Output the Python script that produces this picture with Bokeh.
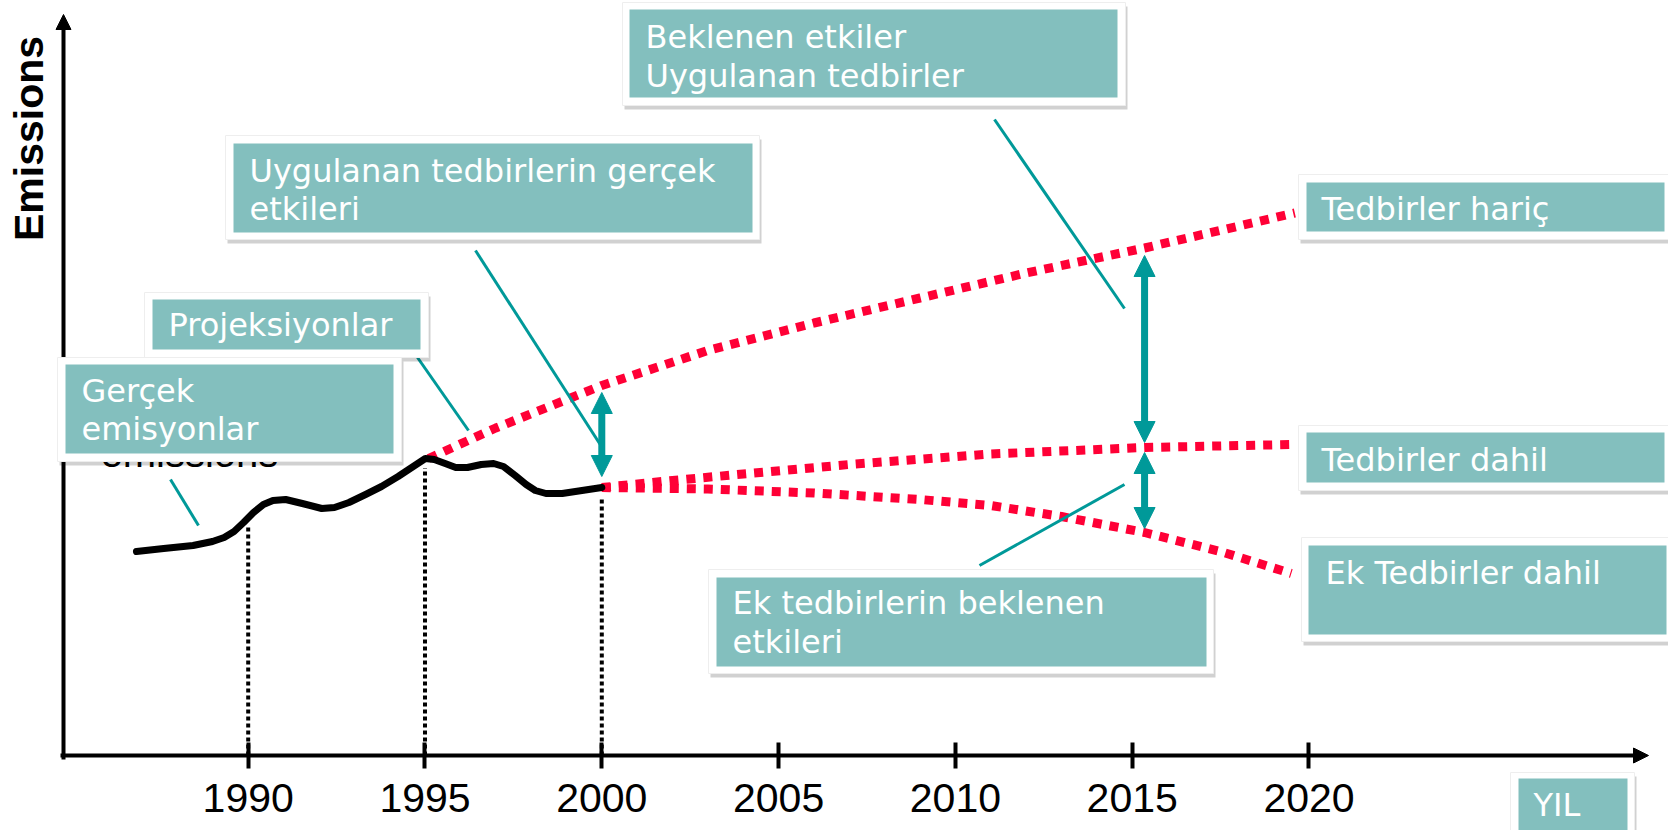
import math
from bokeh.plotting import figure
from bokeh.models import Range1d, LinearAxis, FixedTicker, Arrow, NormalHead
from bokeh.core.properties import value
from bokeh.embed import file_html
from bokeh.resources import INLINE

# ---------------- data ----------------
tick_years = [1990, 1995, 2000, 2005, 2010, 2015, 2020]

# actual (historic) emissions
actual_years = [1986.84, 1987.61, 1988.44, 1988.99, 1989.32, 1989.60, 1989.87, 1990.15,
                1990.43, 1990.70, 1991.06, 1991.53, 1992.08, 1992.44, 1992.85, 1993.32,
                1993.77, 1994.24, 1994.71, 1995.01, 1995.26, 1995.57, 1995.87, 1996.20,
                1996.59, 1996.94, 1997.22, 1997.55, 1997.86, 1998.12, 1998.42, 1998.88,
                1999.44, 2000.0]
actual_emis = [40.8, 41.4, 42.0, 42.8, 43.6, 44.8, 46.6, 48.6,
               50.2, 51.0, 51.2, 50.4, 49.4, 49.6, 50.6, 52.2,
               53.8, 55.8, 58.0, 59.4, 59.2, 58.4, 57.6, 57.6,
               58.2, 58.4, 57.8, 56.0, 54.2, 53.0, 52.4, 52.4,
               53.0, 53.6]

# projection without measures (Tedbirler hariç)
wom_years = [1995.1, 1997, 2000, 2003, 2006, 2009, 2012, 2015.35, 2019.6]
wom_emis = [59.4, 65.5, 74.0, 81.0, 86.5, 91.5, 96.5, 101.5, 108.5]

# projection with measures (Tedbirler dahil)
wm_years = [2000, 2002, 2004, 2007, 2011, 2015.35, 2019.5]
wm_emis = [53.6, 55.0, 56.3, 58.2, 60.3, 61.6, 62.2]

# projection with additional measures (Ek Tedbirler dahil)
wam_years = [2000, 2003, 2006, 2009, 2011, 2013, 2015.35, 2017.5, 2019.5]
wam_emis = [53.6, 53.3, 52.5, 51.2, 50.0, 47.8, 44.6, 40.8, 36.4]

# effect arrows
arrow_years = [2000, 2015.35, 2015.35]
arrow_low = [55.8, 62.6, 45.4]
arrow_high = [72.6, 100.0, 60.6]

# dotted reference years
ref_years = [1990, 1995, 2000]
ref_tops = [46.0, 57.5, 51.5]

y_axis_title = "Emissions"
x_axis_title = "YIL"
hidden_text = "emissions"
box_texts = [
    ["Beklenen etkiler", "Uygulanan tedbirler"],
    ["Uygulanan tedbirlerin gerçek", "etkileri"],
    ["Projeksiyonlar"],
    ["Gerçek", "emisyonlar"],
    ["Tedbirler hariç"],
    ["Tedbirler dahil"],
    ["Ek Tedbirler dahil"],
    ["Ek tedbirlerin beklenen", "etkileri"],
    [x_axis_title],
]

# ---------------- layout helpers (page pixels -> data) ----------------
W, H = 1668, 830
XR0, XR1 = 1982.995, 2030.167
YR0, YR1 = -15.0, 151.0
XS = W / (XR1 - XR0)
YS = H / (YR1 - YR0)


def X(px):
    return XR0 + px / XS


def Y(py):
    return YR1 - py / YS


def TY(baseline, fs):
    # anchor so that the rendered baseline lands on `baseline`
    return Y(baseline - 0.34 * fs)


TEAL_FILL = "#83BFBE"
TEAL = "#009999"
RED = "#FF0036"

# box layout: outer (l,t,r,b), inner (l,t,r,b), text x, baselines, font size
box_layout = [
    ((622, 2, 1125, 105), (629, 9, 1117, 97), 645, [47, 86], 32),
    ((225, 135, 759, 239), (233, 143, 752, 232), 249, [181, 219], 32),
    ((144, 292, 428, 357), (152, 299, 420, 349), 168, [335], 32),
    ((57, 357, 401, 461), (65, 364, 393, 453), 81, [401, 439], 32),
    ((1298, 174, 1675, 239), (1306, 182, 1664, 231), 1321, [219], 32),
    ((1298, 425, 1675, 490), (1306, 432, 1664, 482), 1321, [470], 32),
    ((1301, 537, 1675, 641), (1308, 545, 1666, 634), 1325, [583], 32),
    ((708, 569, 1213, 673), (716, 577, 1206, 666), 732, [613, 652], 32),
    ((1510, 772, 1634, 840), (1518, 778, 1627, 832), 1533, [815], 32),
]

leaders = [(170, 479, 198, 525), (417, 357, 468, 430), (475, 250, 601, 446),
           (994, 119, 1124, 308), (979, 565, 1124, 484)]

p = figure(width=W, height=H, x_range=Range1d(XR0, XR1), y_range=Range1d(YR0, YR1),
           output_backend="svg", toolbar_location=None, x_axis_type=None, y_axis_type=None,
           min_border=0)
p.outline_line_color = None
p.background_fill_color = "white"
p.border_fill_color = "white"

xa = LinearAxis(fixed_location=0, ticker=FixedTicker(ticks=tick_years))
xa.axis_line_color = None
xa.major_tick_line_color = "black"
xa.major_tick_line_width = 4
xa.major_tick_in = 13
xa.major_tick_out = 13
xa.minor_tick_line_color = None
xa.major_label_text_font = "Liberation Sans"
xa.major_label_text_font_size = "41px"
xa.major_label_text_color = "black"
xa.major_label_standoff = 15
p.add_layout(xa, "below")

# axis lines with arrow heads (drawn under boxes)
p.add_layout(Arrow(end=NormalHead(size=15, fill_color="black", line_color="black"),
                   x_start=X(60), y_start=Y(755), x_end=X(1648), y_end=Y(755),
                   line_width=4, line_color="black", level="underlay"))
p.add_layout(Arrow(end=NormalHead(size=15, fill_color="black", line_color="black"),
                   x_start=X(63), y_start=Y(759), x_end=X(63), y_end=Y(14),
                   line_width=4, line_color="black", level="underlay"))

# dotted reference lines
p.segment(x0=ref_years, y0=[0] * len(ref_years), x1=ref_years, y1=ref_tops,
          line_color="black", line_width=4, line_dash="4 3")

# projections
for xs, ys in [(wom_years, wom_emis), (wm_years, wm_emis), (wam_years, wam_emis)]:
    p.line(xs, ys, line_color=RED, line_width=9, line_dash="9 8")

# actual emissions
p.line(actual_years, actual_emis, line_color="black", line_width=7,
       line_join="round", line_cap="round")

# leaders
p.segment(x0=[X(a) for a, b, c, d in leaders], y0=[Y(b) for a, b, c, d in leaders],
          x1=[X(c) for a, b, c, d in leaders], y1=[Y(d) for a, b, c, d in leaders],
          line_color=TEAL, line_width=3)

# effect arrows
for xv, lo, hi in zip(arrow_years, arrow_low, arrow_high):
    p.add_layout(Arrow(start=NormalHead(size=21, fill_color=TEAL, line_color=TEAL),
                       end=NormalHead(size=21, fill_color=TEAL, line_color=TEAL),
                       x_start=xv, y_start=lo, x_end=xv, y_end=hi,
                       line_width=7, line_color=TEAL))

# hidden remnant text behind the "Gerçek emisyonlar" box
p.text(x=[X(100)], y=[TY(466, 40)], text=[hidden_text], text_font=value("Liberation Sans"),
       text_font_size="40px", text_color="black", text_baseline="alphabetic",
       text_align="left")

# y-axis title
p.text(x=[X(28)], y=[Y(138)], text=[y_axis_title], angle=math.pi / 2,
       text_font=value("Liberation Sans"), text_font_style="bold",
       text_font_size="41px", text_color="black", text_align="center",
       text_baseline="middle")

# boxes
for (o, t, tx, bases, fs), lines in zip(box_layout, box_texts):
    ol, ot, orr, ob = o
    p.quad(left=[X(ol + 2)], right=[X(orr + 2)], top=[Y(ot + 4)], bottom=[Y(ob + 4)],
           fill_color="black", fill_alpha=0.18, line_color=None)
    p.quad(left=[X(ol)], right=[X(orr)], top=[Y(ot)], bottom=[Y(ob)],
           fill_color="white", line_color="#EEEEEE", line_width=1)
    il, it, ir, ib = t
    p.quad(left=[X(il)], right=[X(ir)], top=[Y(it)], bottom=[Y(ib)],
           fill_color=TEAL_FILL, line_color=None)
    p.text(x=[X(tx)] * len(lines), y=[TY(b, fs) for b in bases], text=lines,
           text_font=value("DejaVu Sans"), text_font_size=f"{fs}px",
           text_color="white", text_baseline="alphabetic", text_align="left")

open("out.html", "w").write(file_html(p, INLINE))
